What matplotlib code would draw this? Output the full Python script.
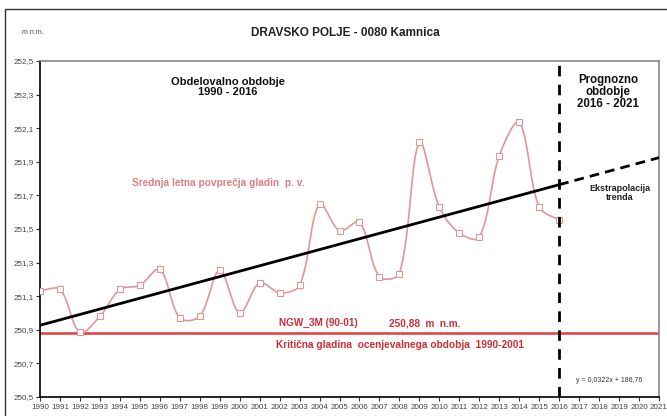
import numpy as np
import matplotlib
matplotlib.use("Agg")
import matplotlib.pyplot as plt
from matplotlib.patches import Rectangle
from matplotlib.ticker import FuncFormatter, FixedLocator

plt.rcParams['font.family'] = ['Liberation Sans', 'DejaVu Sans']

years = [1990, 1991, 1992, 1993, 1994, 1995, 1996, 1997, 1998, 1999, 2000,
         2001, 2002, 2003, 2004, 2005, 2006, 2007, 2008, 2009, 2010, 2011,
         2012, 2013, 2014, 2015, 2016]
levels = [251.13, 251.14, 250.885, 250.98, 251.14, 251.165, 251.26, 250.97,
          250.98, 251.255, 251.00, 251.18, 251.12, 251.165, 251.65, 251.49,
          251.54, 251.215, 251.235, 252.015, 251.63, 251.475, 251.45, 251.935,
          252.135, 251.63, 251.555]
ngw_level = 250.88
forecast_end = 2021
y_ticks = [250.5, 250.7, 250.9, 251.1, 251.3, 251.5, 251.7, 251.9, 252.1, 252.3, 252.5]
x_ticks = list(range(1990, 2022))

x = np.array(years, dtype=float)
y = np.array(levels, dtype=float)


def smooth_screen(P, n=40):
    """Excel-like smoothed line: Bezier segments whose control points are
    scaled by the neighbouring segment lengths (in screen space)."""
    out = []
    for i in range(len(P) - 1):
        p0 = P[i - 1] if i > 0 else P[i]
        p1 = P[i]
        p2 = P[i + 1]
        p3 = P[i + 2] if i + 2 < len(P) else P[i + 1]
        d01 = np.linalg.norm(p1 - p0)
        d12 = np.linalg.norm(p2 - p1)
        d23 = np.linalg.norm(p3 - p2)
        a = d12 / (d01 + d12) if (d01 + d12) > 0 else 0.5
        bb = d12 / (d12 + d23) if (d12 + d23) > 0 else 0.5
        if i == 0:
            a = 0.5
        if i + 2 >= len(P):
            bb = 0.5
        c1 = p1 + (p2 - p0) * a / 3.0
        c2 = p2 - (p3 - p1) * bb / 3.0
        t = np.linspace(0, 1, n)[:, None]
        seg = ((1 - t) ** 3) * p1 + 3 * ((1 - t) ** 2) * t * c1 + 3 * (1 - t) * t ** 2 * c2 + t ** 3 * p2
        out.append(seg if i == 0 else seg[1:])
    return np.vstack(out)


fig = plt.figure(figsize=(6.67, 4.16), dpi=100)
ax = fig.add_axes([40 / 667, 1 - 397 / 416, (659 - 40) / 667, (397 - 61) / 416])

# figure border (open on the right, like the cropped original)
fig.patches.append(Rectangle((5 / 667, -0.05), 1.2, 1 - 9 / 416 + 0.05,
                             transform=fig.transFigure, fill=False,
                             edgecolor='#333333', linewidth=1.0, zorder=0))

ax.set_xlim(years[0], forecast_end)
ax.set_ylim(y_ticks[0], y_ticks[-1])

curve_col = '#e49597'
pix = ax.transData.transform(np.column_stack([x, y]))
S = ax.transData.inverted().transform(smooth_screen(pix))
ax.plot(S[:, 0], S[:, 1], color=curve_col, lw=1.2, zorder=3)
ax.plot(x, y, ls='none', marker='s', ms=4.6, mfc='white', mec=curve_col,
        mew=0.8, zorder=4)

# trend
k, b = np.polyfit(x, y, 1)
xt = np.array([years[0], years[-1]], dtype=float)
ax.plot(xt, k * xt + b, color='black', lw=2.0, zorder=5)
xe = np.array([years[-1], forecast_end], dtype=float)
ax.plot(xe, k * xe + b, color='black', lw=2.0, ls=(0, (3.5, 2.2)), zorder=5)

# NGW line
ax.axhline(ngw_level, color='#e43b3f', lw=1.8, zorder=2)

# vertical separator
ax.axvline(years[-1], color='black', lw=2.0, ls=(0, (3.8, 3)), zorder=6)

ax.yaxis.set_major_locator(FixedLocator(y_ticks))
ax.xaxis.set_major_locator(FixedLocator(x_ticks))
ax.yaxis.set_major_formatter(FuncFormatter(lambda v, p: f"{v:.1f}".replace('.', ',')))
ax.tick_params(axis='both', labelsize=5.8, labelcolor='#444444', length=3,
               width=0.8, direction='out', color='#333333')
ax.tick_params(axis='x', pad=2)
ax.tick_params(axis='y', pad=1.5)

for s in ['left', 'bottom']:
    ax.spines[s].set_color('black')
    ax.spines[s].set_linewidth(1.2)
for s in ['top', 'right']:
    ax.spines[s].set_color('#888888')
    ax.spines[s].set_linewidth(1.2)


def put(px, py, s, **kw):
    fig.text(px / 667, 1 - py / 416, s, **kw)


put(345, 33, 'DRAVSKO POLJE - 0080 Kamnica', ha='center', va='center',
    fontsize=8.5, fontweight='bold', color='#222222')
put(33, 33, 'm n.m.', ha='center', va='center', fontsize=5, color='#444444')

put(228, 87, 'Obdelovalno obdobje\n1990 - 2016', ha='center', va='center',
    fontsize=8.0, fontweight='bold', color='#111111', linespacing=1.0)
put(608, 92, 'Prognozno\nobdobje\n2016 - 2021', ha='center', va='center',
    fontsize=8.3, fontweight='bold', color='#111111', linespacing=1.0)
put(218, 183, 'Srednja letna povprečja gladin  p. v.', ha='center', va='center',
    fontsize=7.3, fontweight='bold', color='#e07f80')
put(620, 193, 'Ekstrapolacija\ntrenda', ha='center', va='center',
    fontsize=6.5, fontweight='bold', color='#222222', linespacing=1.05)
put(318, 323, 'NGW_3M (90-01)', ha='center', va='center',
    fontsize=7.2, fontweight='bold', color='#cf2e38')
put(425, 323, '250,88  m  n.m.', ha='center', va='center',
    fontsize=7.2, fontweight='bold', color='#cf2e38')
put(400, 345, 'Kritična gladina  ocenjevalnega obdobja  1990-2001', ha='center',
    va='center', fontsize=7.3, fontweight='bold', color='#cf2e38')
put(609, 380, 'y = 0,0322x + 186,76', ha='center', va='center',
    fontsize=5, color='#333333')

fig.savefig('out.png', dpi=100)
